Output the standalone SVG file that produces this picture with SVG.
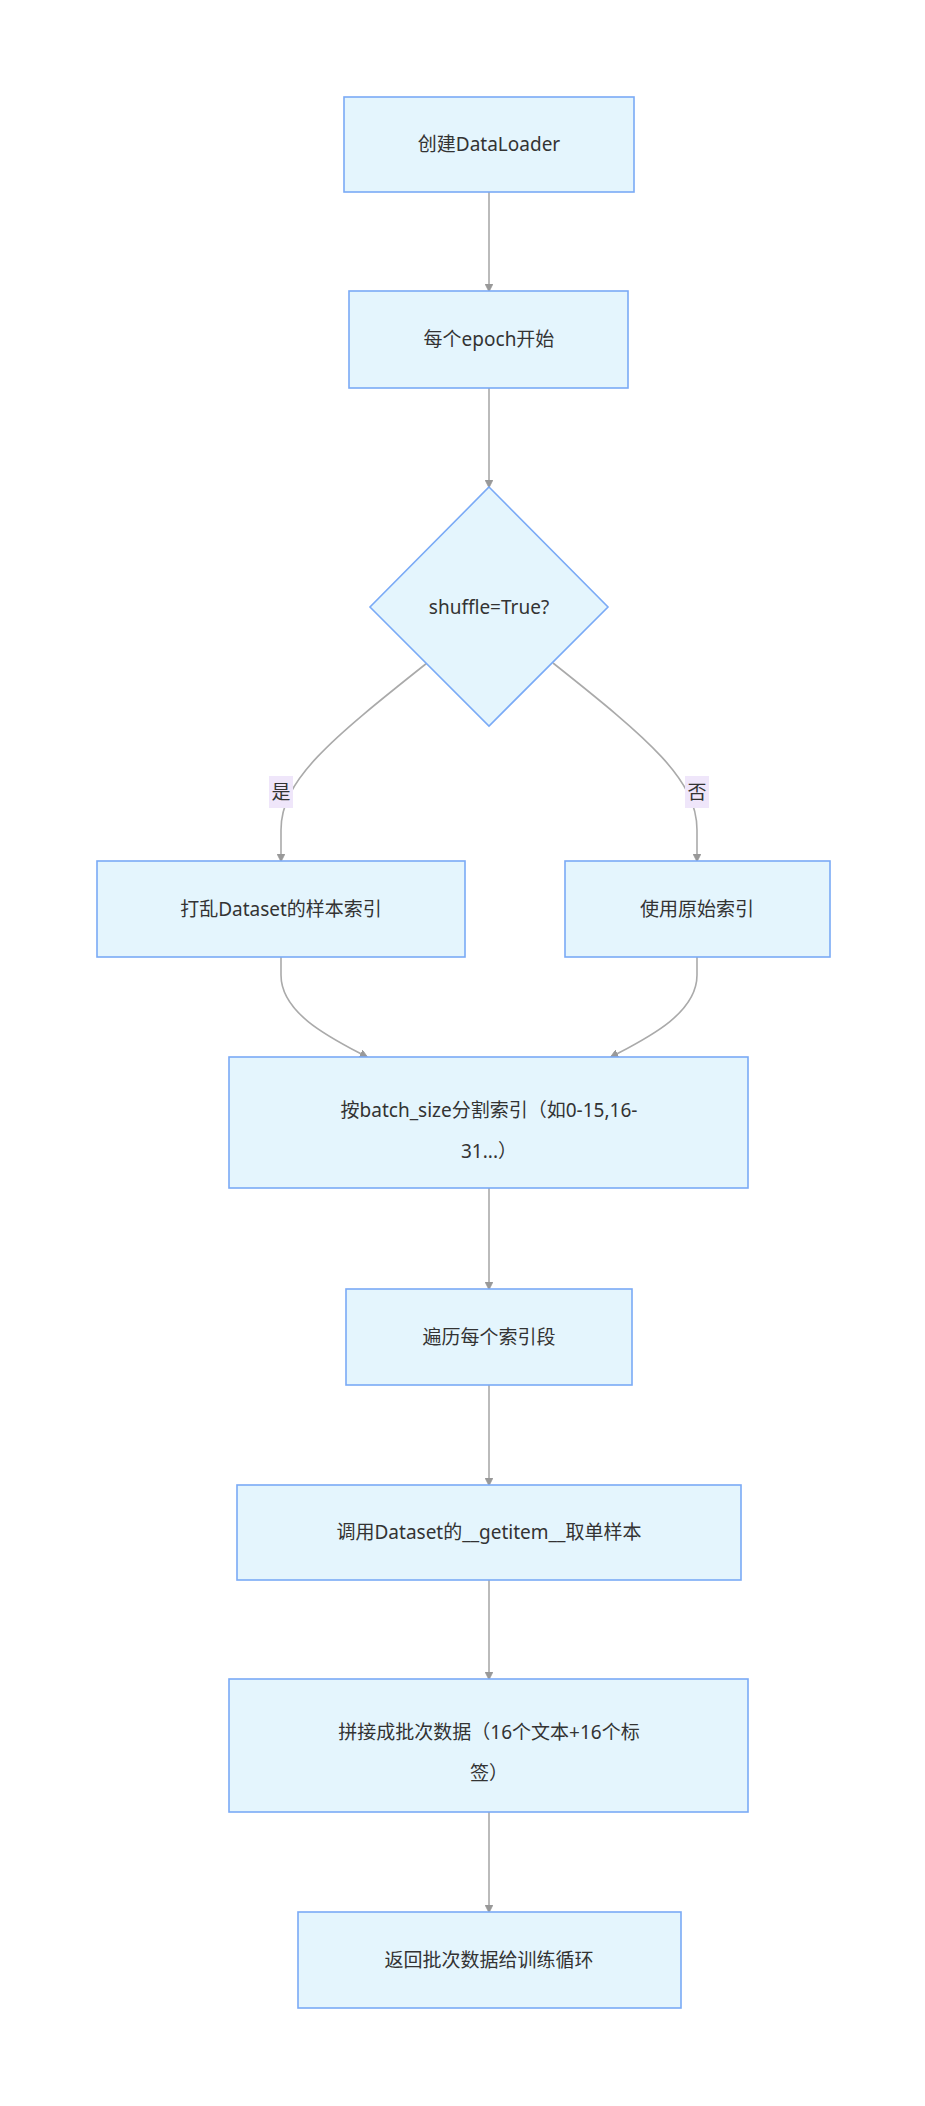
<svg xmlns="http://www.w3.org/2000/svg" width="925" height="2106" viewBox="0 0 925 2106">
<style>
.n{fill:#e4f5fd;stroke:#7aaaf6;stroke-width:1.6}
.t{font-family:"Noto Sans","Noto Sans CJK SC",sans-serif;font-size:19px;fill:#333;text-anchor:middle;dominant-baseline:central}
.e{fill:none;stroke:#aaa;stroke-width:1.6}
.lb{fill:#efe6fa}
</style>
<defs><marker id="a" viewBox="0 0 10 10" refX="9" refY="5" markerWidth="8" markerHeight="8" orient="auto-start-reverse" markerUnits="userSpaceOnUse"><path d="M0,0L10,5L0,10z" fill="#999" stroke="#999"/></marker></defs>
<rect width="925" height="2106" fill="#fff"/>
<g id="edges">
<path class="e" marker-end="url(#a)" d="M489,192L489,291"/>
<path class="e" marker-end="url(#a)" d="M489,388L489,487"/>
<path class="e" marker-end="url(#a)" d="M427,663C330,740 281,780 281,830L281,861"/>
<path class="e" marker-end="url(#a)" d="M553,663C650,740 697,780 697,830L697,861"/>
<path class="e" marker-end="url(#a)" d="M281,957L281,975C281,1015 335,1040 367,1057"/>
<path class="e" marker-end="url(#a)" d="M697,957L697,975C697,1015 643,1040 611,1057"/>
<path class="e" marker-end="url(#a)" d="M489,1188L489,1289"/>
<path class="e" marker-end="url(#a)" d="M489,1385L489,1485"/>
<path class="e" marker-end="url(#a)" d="M489,1580L489,1679"/>
<path class="e" marker-end="url(#a)" d="M489,1812L489,1912"/>
<rect class="lb" x="269" y="776" width="24" height="32"/><text class="t" x="281" y="792">是</text>
<rect class="lb" x="685" y="776" width="24" height="32"/><text class="t" x="697" y="792">否</text>
</g>
<g id="n1"><rect class="n" x="344" y="97" width="290" height="95"/><text class="t" x="489" y="144">创建DataLoader</text></g>
<g id="n2"><rect class="n" x="349" y="291" width="279" height="97"/><text class="t" x="489" y="339">每个epoch开始</text></g>
<g id="n3"><polygon class="n" points="489,487 608,607 489,726 370,607"/><text class="t" x="489" y="607">shuffle=True?</text></g>
<g id="n4"><rect class="n" x="97" y="861" width="368" height="96"/><text class="t" x="281" y="909">打乱Dataset的样本索引</text></g>
<g id="n5"><rect class="n" x="565" y="861" width="265" height="96"/><text class="t" x="697" y="909">使用原始索引</text></g>
<g id="n6"><rect class="n" x="229" y="1057" width="519" height="131"/><text class="t" x="489" y="1110">按batch_size分割索引（如0-15,16-</text><text class="t" x="489" y="1151">31...）</text></g>
<g id="n7"><rect class="n" x="346" y="1289" width="286" height="96"/><text class="t" x="489" y="1337">遍历每个索引段</text></g>
<g id="n8"><rect class="n" x="237" y="1485" width="504" height="95"/><text class="t" x="489" y="1532">调用Dataset的__getitem__取单样本</text></g>
<g id="n9"><rect class="n" x="229" y="1679" width="519" height="133"/><text class="t" x="489" y="1732">拼接成批次数据（16个文本+16个标</text><text class="t" x="489" y="1773">签）</text></g>
<g id="n10"><rect class="n" x="298" y="1912" width="383" height="96"/><text class="t" x="489" y="1960">返回批次数据给训练循环</text></g>
</svg>
